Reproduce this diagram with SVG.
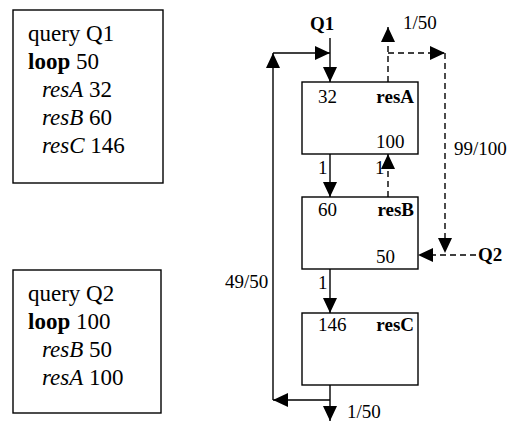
<svg xmlns="http://www.w3.org/2000/svg" width="509" height="423" viewBox="0 0 509 423">
  <style>
    .box { fill: #fff; stroke: #000; stroke-width: 1.4; }
    .ln { fill: none; stroke: #000; stroke-width: 1.4; }
    .dash { stroke-dasharray: 6 4; }
    text { font-family: "Liberation Serif", "Times New Roman", serif; fill: #000; }
    .big { font-size: 23px; }
    .lbl { font-size: 19px; }
    .b { font-weight: bold; }
    .i { font-style: italic; }
  </style>
  <defs>
    <marker id="ah" viewBox="0 0 15 14" refX="15" refY="7" markerWidth="15" markerHeight="14" markerUnits="userSpaceOnUse" orient="auto">
      <path d="M0,0 L15,7 L0,14 Z" fill="#000"/>
    </marker>
  </defs>

  <!-- query descriptions -->
  <g id="query-q1">
    <rect class="box" x="13" y="10" width="150" height="173"/>
    <text class="big" x="28" y="41">query Q1</text>
    <text class="big" x="28" y="69"><tspan class="b">loop</tspan> 50</text>
    <text class="big" x="42" y="97"><tspan class="i">resA</tspan> 32</text>
    <text class="big" x="42" y="125"><tspan class="i">resB</tspan> 60</text>
    <text class="big" x="42" y="153"><tspan class="i">resC</tspan> 146</text>
  </g>
  <g id="query-q2">
    <rect class="box" x="13" y="270" width="148" height="143"/>
    <text class="big" x="28" y="301">query Q2</text>
    <text class="big" x="28" y="329"><tspan class="b">loop</tspan> 100</text>
    <text class="big" x="42" y="357"><tspan class="i">resB</tspan> 50</text>
    <text class="big" x="42" y="385"><tspan class="i">resA</tspan> 100</text>
  </g>

  <!-- resources -->
  <g id="resA">
    <rect class="box" x="302" y="82" width="116" height="72"/>
    <text class="lbl" x="318" y="103">32</text>
    <text class="lbl b" x="414" y="103" text-anchor="end">resA</text>
    <text class="lbl" x="376" y="148">100</text>
  </g>
  <g id="resB">
    <rect class="box" x="302" y="197" width="116" height="72"/>
    <text class="lbl" x="318" y="216">60</text>
    <text class="lbl b" x="414" y="216" text-anchor="end">resB</text>
    <text class="lbl" x="376" y="263">50</text>
  </g>
  <g id="resC">
    <rect class="box" x="302" y="313" width="116" height="72"/>
    <text class="lbl" x="318" y="331">146</text>
    <text class="lbl b" x="414" y="331" text-anchor="end">resC</text>
  </g>

  <!-- connectors -->
  <g id="connectors">
    <!-- Q1 path (solid) -->
    <line class="ln" x1="330" y1="38" x2="330" y2="82" marker-end="url(#ah)"/>
    <line class="ln" x1="330" y1="154" x2="330" y2="197" marker-end="url(#ah)"/>
    <line class="ln" x1="330" y1="269" x2="330" y2="313" marker-end="url(#ah)"/>
    <line class="ln" x1="330" y1="385" x2="330" y2="421" marker-end="url(#ah)"/>
    <polyline class="ln" points="330,400 273,400" marker-end="url(#ah)"/>
    <polyline class="ln" points="273,400 273,53" marker-end="url(#ah)"/>
    <polyline class="ln" points="273,53 330,53" marker-end="url(#ah)"/>
    <!-- Q2 path (dashed) -->
    <line class="ln dash" x1="476" y1="255" x2="418" y2="255" marker-end="url(#ah)"/>
    <line class="ln dash" x1="388" y1="197" x2="388" y2="154" marker-end="url(#ah)"/>
    <line class="ln dash" x1="388" y1="82" x2="388" y2="27" marker-end="url(#ah)"/>
    <polyline class="ln dash" points="388,53 445,53" marker-end="url(#ah)"/>
    <polyline class="ln dash" points="445,53 445,253" marker-end="url(#ah)"/>

    <text class="lbl b" x="310" y="30">Q1</text>
    <text class="lbl b" x="478" y="261">Q2</text>
    <text class="lbl" x="403" y="29">1/50</text>
    <text class="lbl" x="454" y="155">99/100</text>
    <text class="lbl" x="318" y="174">1</text>
    <text class="lbl" x="375" y="174">1</text>
    <text class="lbl" x="318" y="289">1</text>
    <text class="lbl" x="347" y="418">1/50</text>
    <text class="lbl" x="225" y="288">49/50</text>
  </g>
</svg>
